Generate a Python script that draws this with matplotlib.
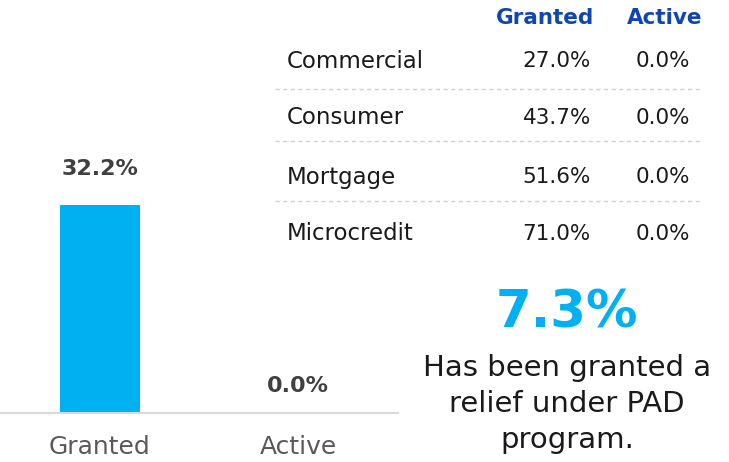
import matplotlib.pyplot as plt
from matplotlib.lines import Line2D

plt.rcParams["font.family"] = ["DejaVu Sans"]

# bar chart data
bar_labels = ["Granted", "Active"]
bar_values = [32.2, 0.0]

# table data
segments = ["Commercial", "Consumer", "Mortgage", "Microcredit"]
granted = [27.0, 43.7, 51.6, 71.0]
active = [0.0, 0.0, 0.0, 0.0]
table_headers = ["Granted", "Active"]

headline = "7.3%"
caption = "Has been granted a\nrelief under PAD\nprogram."

BLUE = "#00B0F0"
NAVY = "#0F47AF"
W, H = 729, 462


def fx(px):
    return px / W


def fy(py):
    return 1 - py / H


fig = plt.figure(figsize=(W / 100, H / 100), dpi=100)

ax = fig.add_axes([0, fy(413), fx(398), (413 - 155) / H])
x = list(range(len(bar_labels)))
ax.bar(x, bar_values, width=0.404, color=BLUE)
ax.set_xlim(-0.505, 1.505)
ax.set_ylim(0, 40)
for xi, v in zip(x, bar_values):
    ax.annotate(f"{v:.1f}%", (xi, v), xytext=(0, 19 if v > 0 else 12),
                textcoords="offset points", ha="center", va="bottom",
                fontsize=16, fontweight="bold", color="#404040")
for s in ["top", "right", "left"]:
    ax.spines[s].set_visible(False)
ax.spines["bottom"].set_color("#d9d9d9")
ax.spines["bottom"].set_linewidth(1.5)
ax.set_yticks([])
ax.set_xticks(x)
ax.set_xticklabels(bar_labels, fontsize=18, color="#595959")
ax.tick_params(axis="x", length=0, pad=16)

# table
row_y = [61, 118, 177, 234]
line_y = [89, 141, 201]
fig.text(fx(594), fy(18), table_headers[0], ha="right", va="center",
         fontsize=15.5, fontweight="bold", color=NAVY)
fig.text(fx(702), fy(18), table_headers[1], ha="right", va="center",
         fontsize=15.5, fontweight="bold", color=NAVY)
for i, (name, g, a) in enumerate(zip(segments, granted, active)):
    y = fy(row_y[i])
    fig.text(fx(287), y, name, ha="left", va="center", fontsize=16.5, color="#1a1a1a")
    fig.text(fx(591), y, f"{g:.1f}%", ha="right", va="center", fontsize=15.5, color="#1a1a1a")
    fig.text(fx(690), y, f"{a:.1f}%", ha="right", va="center", fontsize=15.5, color="#1a1a1a")
for ly in line_y:
    fig.add_artist(Line2D([fx(275), fx(700)], [fy(ly), fy(ly)], color="#d0d0d0",
                          linewidth=1, linestyle=(0, (3, 2.5))))

fig.text(fx(567), fy(313), headline, ha="center", va="center",
         fontsize=37, fontweight="bold", color=BLUE)
fig.text(fx(567), fy(404), caption, ha="center", va="center",
         fontsize=21, color="#1a1a1a", linespacing=1.35)

fig.savefig("out.png", dpi=100)
